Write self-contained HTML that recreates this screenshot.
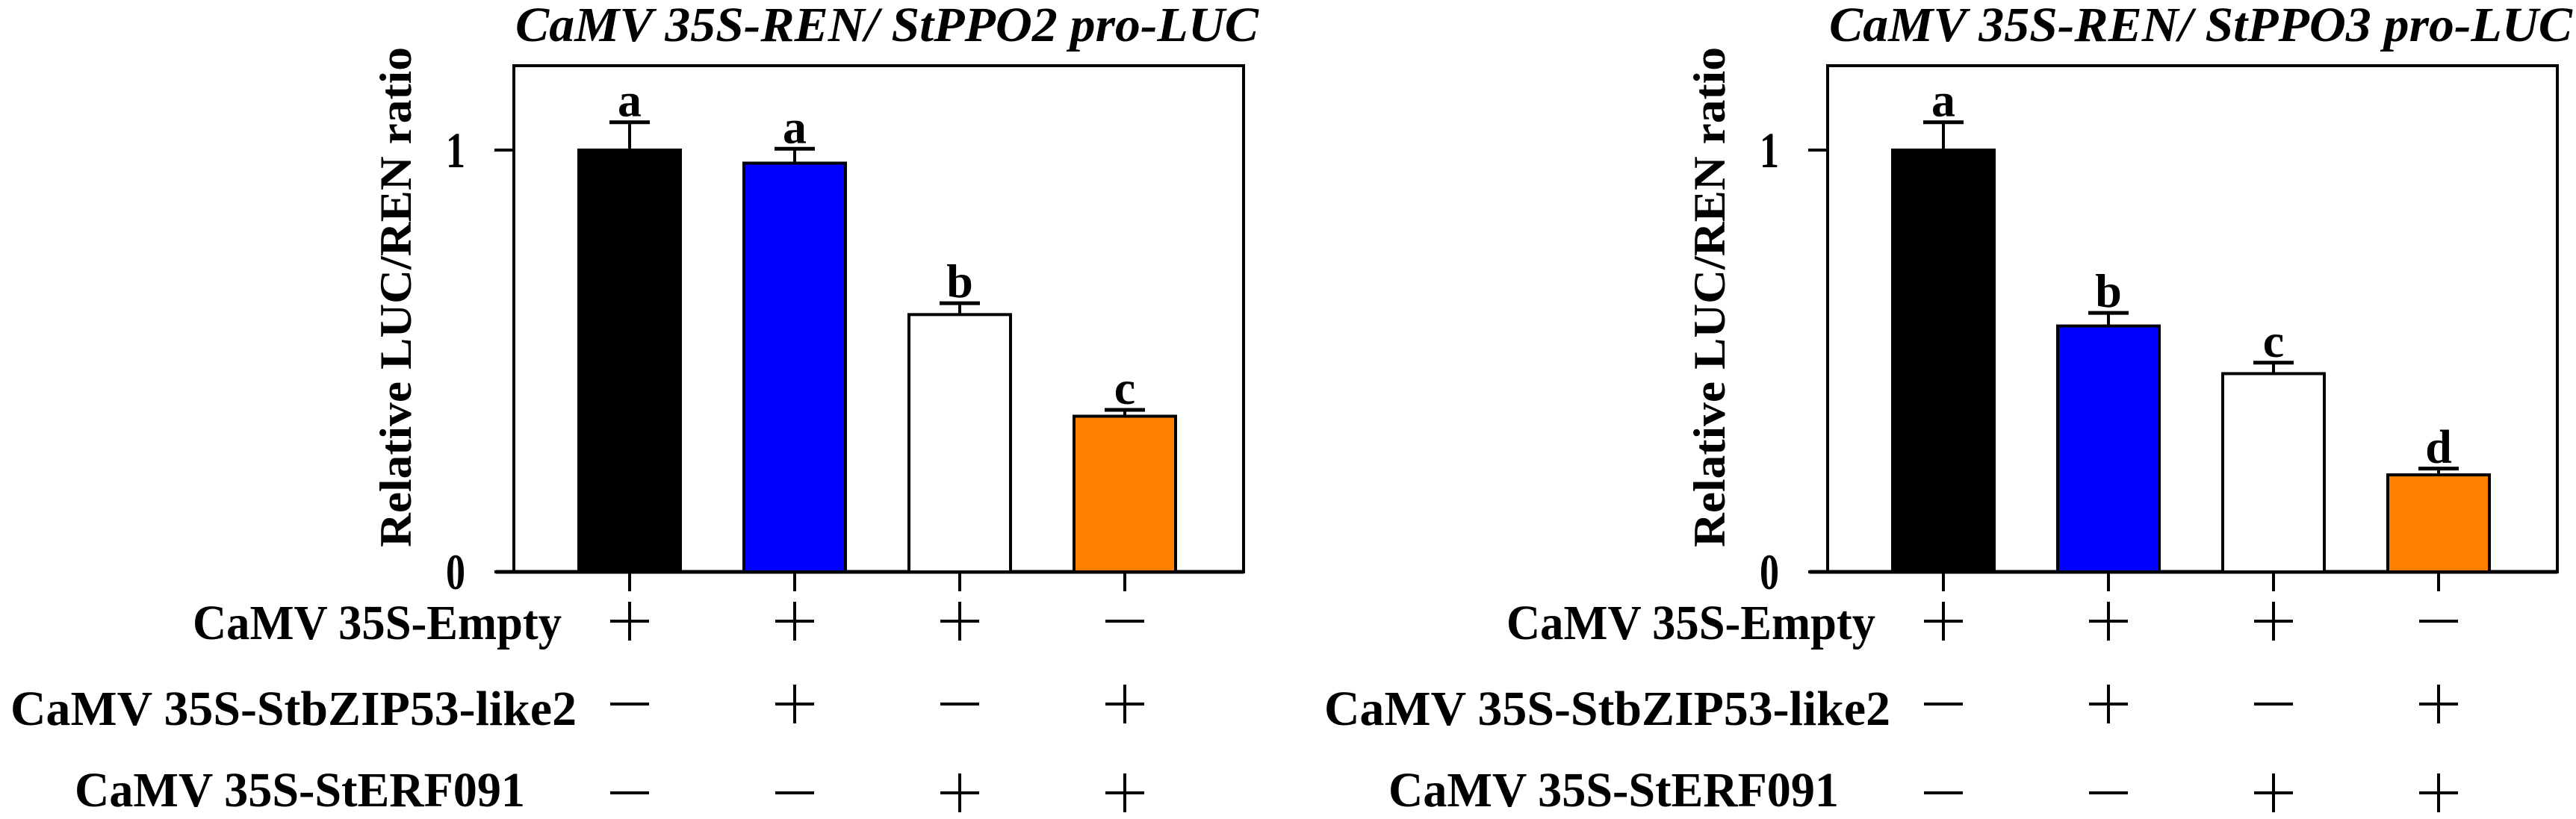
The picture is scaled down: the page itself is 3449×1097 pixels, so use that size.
<!DOCTYPE html>
<html><head><meta charset="utf-8">
<style>
html,body{margin:0;padding:0;background:#fff;}
svg{display:block;}
text{font-family:"Liberation Serif",serif;font-weight:bold;fill:#000;}
</style></head>
<body>
<svg id="chart" width="3449" height="1097" viewBox="0 0 3449 1097" xmlns="http://www.w3.org/2000/svg"></svg>
<script>
const categories = ["Empty", "StbZIP53-like2", "StERF091", "StbZIP53-like2+StERF091"];
const colors = ["#000000", "#0000ff", "#ffffff", "#ff7f00"];
const ppo2Values = [1.0, 0.969, 0.61, 0.369];
const ppo2Errors = [0.066, 0.034, 0.027, 0.015];
const ppo2Letters = ["a", "a", "b", "c"];
const ppo3Values = [1.0, 0.583, 0.470, 0.230];
const ppo3Errors = [0.066, 0.031, 0.026, 0.015];
const ppo3Letters = ["a", "b", "c", "d"];
const yTicks = [0, 1];
const rowLabels = ["CaMV 35S-Empty", "CaMV 35S-StbZIP53-like2", "CaMV 35S-StERF091"];
const rowSigns = [["+","+","+","-"], ["-","+","-","+"], ["-","-","+","+"]];

const NS = "http://www.w3.org/2000/svg";
const svg = document.getElementById("chart");
function mk(tag, attrs, parent, txt){
  const e = document.createElementNS(NS, tag);
  for (const k in attrs) e.setAttribute(k, attrs[k]);
  if (txt !== undefined) e.textContent = txt;
  (parent || svg).appendChild(e);
  return e;
}

function panel(ox, title, values, errors, letters, key){
  const g = mk("g", {});
  
  
  const x0 = 688 + ox, x1 = 1665 + ox, yTop = 88, yZero = 766;
  const yMax = 1.2;
  const y = v => yZero - (v / yMax) * (yZero - yTop);
  const step = 221, bw = 136, firstC = 843 + ox;
  const xc = i => firstC + i * step;

  const t = mk("text", {x: 690 + ox, y: 55, "text-anchor": "start", "font-size": 66, "font-style": "italic", textLength: 995, lengthAdjust: "spacingAndGlyphs"}, g, title);
  
  

  const frame = mk("rect", {x: x0, y: yTop, width: x1 - x0, height: yZero - yTop, fill: "none", stroke: "#000", "stroke-width": 4}, g);
  
  
  const xa = mk("line", {x1: x0 - 24, y1: yZero, x2: x1, y2: yZero, stroke: "#000", "stroke-width": 5}, g);
  
  

  yTicks.forEach(v => {
    const tl = mk("line", {x1: x0 - 26, y1: y(v), x2: x0, y2: y(v), stroke: "#000", "stroke-width": 4}, g);
    
    
    const lb = mk("text", {x: 610 + ox, y: y(v) + 23, "text-anchor": "middle", "font-size": 68, textLength: 26, lengthAdjust: "spacingAndGlyphs"}, g, String(v));
    
    
  });

  const yl = mk("text", {x: 0, y: 0, "text-anchor": "middle", "font-size": 60, transform: `translate(${550 + ox},398) rotate(-90)`, textLength: 670, lengthAdjust: "spacingAndGlyphs"}, g, "Relative LUC/REN ratio");
  
  

  values.forEach((v, i) => {
    const b = mk("rect", {x: xc(i) - bw / 2, y: y(v), width: bw, height: yZero - y(v), fill: colors[i], stroke: "#000", "stroke-width": 4}, g);
    
    
    const et = y(v + errors[i]);
    const el = mk("line", {x1: xc(i), y1: y(v), x2: xc(i), y2: et, stroke: "#000", "stroke-width": 4}, g);
    
    
    const ec = mk("line", {x1: xc(i) - 27, y1: et, x2: xc(i) + 27, y2: et, stroke: "#000", "stroke-width": 5}, g);
    
    
    const lt = mk("text", {x: xc(i), y: et - 8, "text-anchor": "middle", "font-size": 64}, g, letters[i]);
    
    
    const xt = mk("line", {x1: xc(i), y1: yZero, x2: xc(i), y2: 792, stroke: "#000", "stroke-width": 4}, g);
    
    
  });

  const rowY = [832, 943, 1062];
  const rowBase = [856, 971, 1080];
  const rowX0 = [258, 14, 100], rowX1 = [752, 772, 703];
  rowLabels.forEach((lab, r) => {
    const tx = mk("text", {x: rowX0[r] + ox, y: rowBase[r], "font-size": 66, textLength: rowX1[r] - rowX0[r], lengthAdjust: "spacingAndGlyphs"}, g, lab);
    
    
    rowSigns[r].forEach((s, i) => {
      const h = mk("line", {x1: xc(i) - 26, y1: rowY[r], x2: xc(i) + 26, y2: rowY[r], stroke: "#000", "stroke-width": 4}, g);
      
      
      if (s === "+") {
        const v = mk("line", {x1: xc(i), y1: rowY[r] - 26, x2: xc(i), y2: rowY[r] + 26, stroke: "#000", "stroke-width": 4}, g);
        
        
      }
    });
  });
}

panel(0, "CaMV 35S-REN/ StPPO2 pro-LUC", ppo2Values, ppo2Errors, ppo2Letters, "ppo2");
panel(1759, "CaMV 35S-REN/ StPPO3 pro-LUC", ppo3Values, ppo3Errors, ppo3Letters, "ppo3");
</script>
</body></html>
